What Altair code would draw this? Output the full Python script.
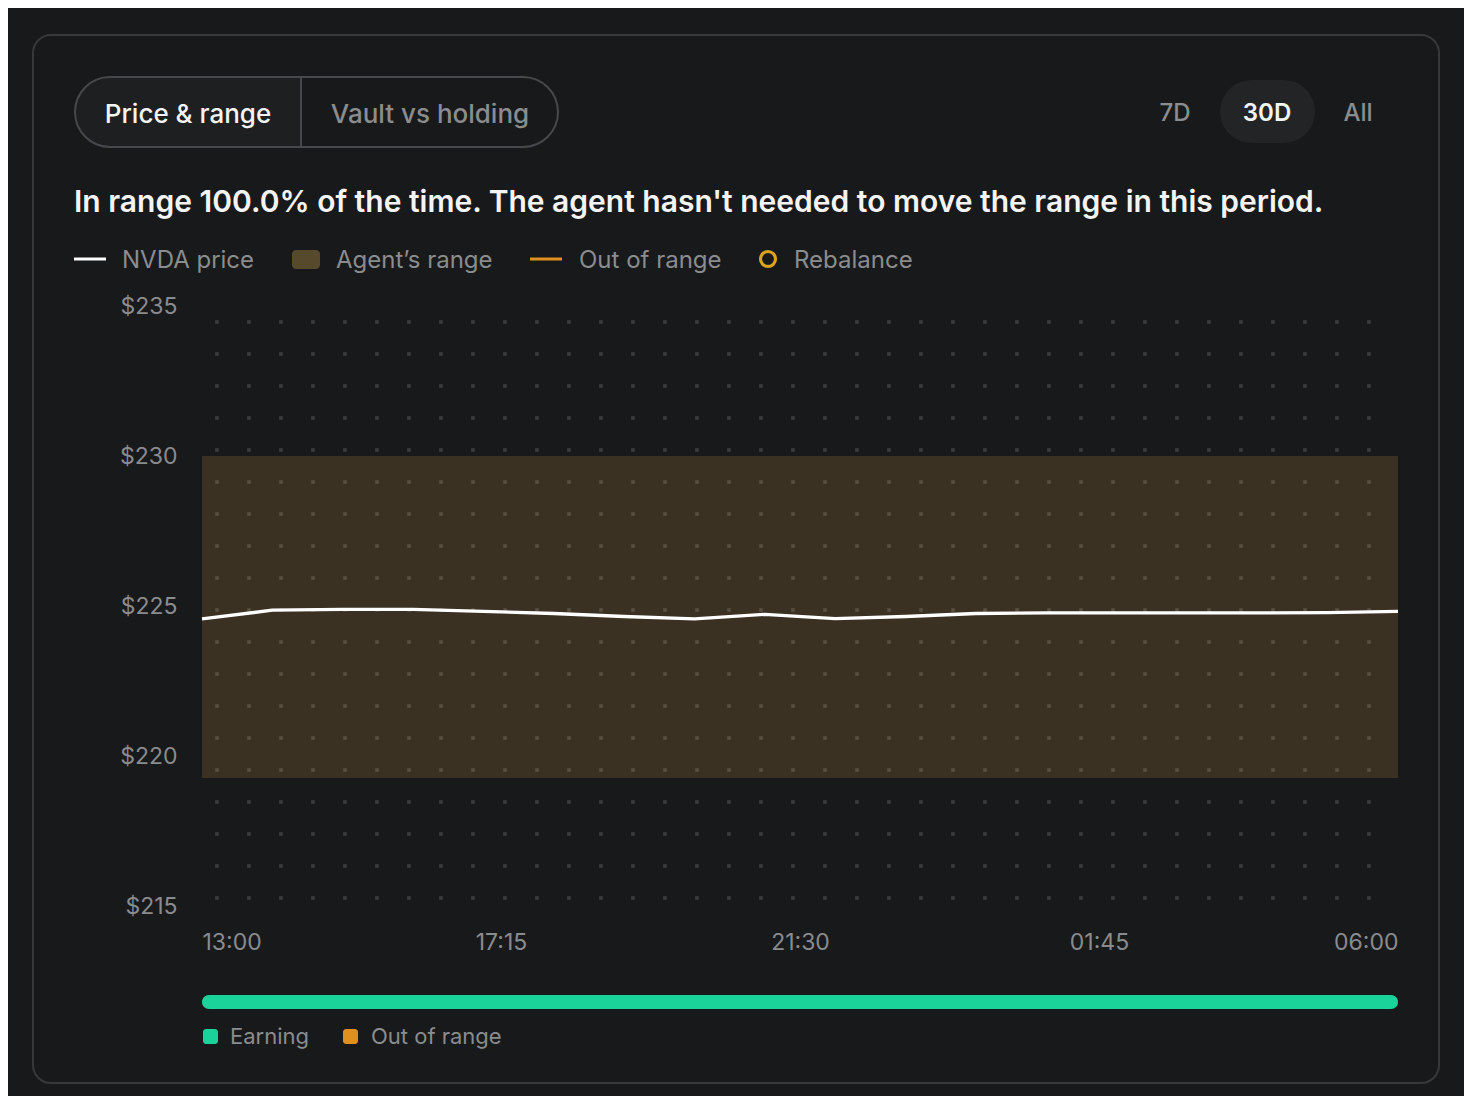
import altair as alt
import pandas as pd
import numpy as np

FONT = "Inter"

# ---------------- data ----------------
times = [
    "2025-01-01T13:00:00", "2025-01-01T14:00:00", "2025-01-01T15:00:00",
    "2025-01-01T16:00:00", "2025-01-01T17:00:00", "2025-01-01T18:00:00",
    "2025-01-01T19:00:00", "2025-01-01T20:00:00", "2025-01-01T21:00:00",
    "2025-01-01T22:00:00", "2025-01-01T23:00:00", "2025-01-02T00:00:00",
    "2025-01-02T01:00:00", "2025-01-02T02:00:00", "2025-01-02T03:00:00",
    "2025-01-02T04:00:00", "2025-01-02T05:00:00", "2025-01-02T06:00:00",
]
prices = [224.57, 224.86, 224.89, 224.89, 224.82, 224.75, 224.65, 224.57,
          224.72, 224.58, 224.65, 224.75, 224.77, 224.77, 224.77, 224.77,
          224.78, 224.82]

range_low = [219.27]
range_high = [230.0]

y_ticks = [215, 220, 225, 230, 235]
x_tick_labels = ["13:00", "17:15", "21:30", "01:45", "06:00"]
x_tick_days = [1, 1, 1, 2, 2]

seg_start = ["2025-01-01T13:00:00"]
seg_end = ["2025-01-02T06:00:00"]
seg_status = ["Earning"]

status_names = ["Earning", "Out of range"]
status_colors = ["#1ad39b", "#e0901f"]

# ---------------- helpers ----------------
def dt(day, hhmm):
    h, m = hhmm.split(":")
    return alt.DateTime(year=2025, month=1, date=day, hours=int(h), minutes=int(m))

x_domain = [dt(1, "13:00"), dt(2, "06:00")]
x_values = [dt(d, l) for d, l in zip(x_tick_days, x_tick_labels)]
y_domain = [215, 235]

one = pd.DataFrame({"k": [0]})

def txt(s, x, y, size, color, weight=400, align="left"):
    return alt.Chart(one).mark_text(
        text=s, align=align, baseline="middle", fontSize=size,
        fontWeight=weight, color=color, font=FONT
    ).encode(x=alt.value(x), y=alt.value(y))

def box(x, x2, y, y2, fill, r=0, stroke=None, sw=0, fill_opacity=1.0, **kw):
    props = dict(fill=fill, fillOpacity=fill_opacity)
    if r:
        props["cornerRadius"] = r
    if stroke is not None:
        props["stroke"] = stroke
        props["strokeWidth"] = sw
    props.update(kw)
    return alt.Chart(one).mark_rect(**props).encode(
        x=alt.value(x), x2=alt.value(x2), y=alt.value(y), y2=alt.value(y2))

def hline(x, x2, y, color, sw=3):
    return alt.Chart(one).mark_rule(color=color, strokeWidth=sw).encode(
        x=alt.value(x), x2=alt.value(x2), y=alt.value(y))

def vline(x, y, y2, color, sw=2):
    return alt.Chart(one).mark_rule(color=color, strokeWidth=sw).encode(
        x=alt.value(x), y=alt.value(y), y2=alt.value(y2))

GRAY = "#8b8c8e"
WHITE = "#f4f4f5"

# ---------------- card + header ----------------
card = box(-169, 1237, -271, 777, "#18191b", r=18, stroke="#37383a", sw=2)

tab_left = box(-127, 99, -229, -159, "#1e1f21",
               cornerRadiusTopLeft=35, cornerRadiusBottomLeft=35)
tab_outline = box(-127, 356, -229, -159, "#18191b", r=35, stroke="#47484b",
                  sw=2, fill_opacity=0.0)
tab_div = vline(99, -229, -159, "#47484b", 2)
tab_t1 = txt("Price & range", -14, -191, 26, WHITE, 500, "center")
tab_t2 = txt("Vault vs holding", 228, -191, 26, GRAY, 500, "center")

pill30 = box(1018, 1113, -226, -163, "#232426", r=32)
b7 = txt("7D", 973, -192, 24, GRAY, 500, "center")
b30 = txt("30D", 1065, -192, 24, WHITE, 600, "center")
ball = txt("All", 1156, -192, 24, GRAY, 500, "center")

title = txt("In range 100.0% of the time. The agent hasn't needed to move the range in this period.",
            -128, -103, 30, WHITE, 600)

# ---------------- legend row ----------------
lg_y = -46
leg = [
    hline(-128, -96, lg_y - 1, "#ffffff", 3),
    txt("NVDA price", -80, lg_y + 1, 24, GRAY),
    box(90, 118, lg_y - 10, lg_y + 9, "#574a2c", r=4),
    txt("Agent\u2019s range", 134, lg_y + 1, 24, GRAY),
    hline(328, 360, lg_y - 1, "#e0901f", 3),
    txt("Out of range", 377, lg_y + 1, 24, GRAY),
    alt.Chart(one).mark_point(shape="circle", filled=False, size=225,
                              stroke="#d9a21f", strokeWidth=3.2, opacity=1).encode(
        x=alt.value(566), y=alt.value(lg_y - 1)),
    txt("Rebalance", 592, lg_y + 1, 24, GRAY),
]

# ---------------- plot ----------------
xs = alt.Scale(domain=x_domain, nice=False)
ys = alt.Scale(domain=y_domain, nice=False, zero=False)
x_axis = alt.Axis(values=x_values, format="%H:%M", labelFlush=True,
                  labelPadding=25, title=None, zindex=2)
y_axis = alt.Axis(values=y_ticks, labelExpr="'$' + datum.value",
                  labelPadding=25, title=None, zindex=2)

band_df = pd.DataFrame({"start": [times[0]], "end": [times[-1]],
                        "low": range_low, "high": range_high})
band = alt.Chart(band_df).mark_rect(color="#3a3122").encode(
    x=alt.X("start:T", scale=xs, axis=x_axis),
    x2="end:T",
    y=alt.Y("low:Q", scale=ys, axis=y_axis),
    y2="high:Q",
)

# background dot texture (every 32px of the plot area)
t0 = pd.Timestamp(times[0])
span_h = (pd.Timestamp(times[-1]) - t0) / pd.Timedelta(hours=1)
gx = np.arange(15, 1196, 32) / 1196.0
gy = np.arange(16, 600, 32) / 600.0
GX, GY = np.meshgrid(gx, gy)
dot_df = pd.DataFrame({
    "t": [(t0 + pd.Timedelta(hours=float(f * span_h))).isoformat(timespec="milliseconds")
          for f in GX.ravel()],
    "p": y_domain[1] - GY.ravel() * (y_domain[1] - y_domain[0]),
})
dots = alt.Chart(dot_df).mark_square(size=13, color="#ffffff", opacity=0.15).encode(
    x=alt.X("t:T", scale=xs, axis=x_axis),
    y=alt.Y("p:Q", scale=ys, axis=y_axis),
)

line_df = pd.DataFrame({"time": times, "price": prices})
line = alt.Chart(line_df).mark_line(color="#ffffff", strokeWidth=3.3,
                                    strokeJoin="round", strokeCap="butt").encode(
    x=alt.X("time:T", scale=xs, axis=x_axis),
    y=alt.Y("price:Q", scale=ys, axis=y_axis),
)

seg_df = pd.DataFrame({"start": seg_start, "end": seg_end, "status": seg_status})
bar = alt.Chart(seg_df).mark_rect(cornerRadius=7).encode(
    x=alt.X("start:T", scale=xs, axis=x_axis),
    x2="end:T",
    y=alt.value(689), y2=alt.value(703),
    color=alt.Color("status:N", scale=alt.Scale(domain=status_names, range=status_colors),
                    legend=None),
)

bottom_leg = [
    box(1, 16, 723, 738, status_colors[0], r=3),
    txt(status_names[0], 28, 731, 22, GRAY),
    box(141, 156, 723, 738, status_colors[1], r=3),
    txt(status_names[1], 169, 731, 22, GRAY),
]

chart = alt.layer(
    card, tab_left, tab_outline, tab_div, tab_t1, tab_t2,
    pill30, b7, b30, ball, title, *leg,
    band, dots, line, bar, *bottom_leg,
).properties(
    width=1196, height=600,
    padding={"left": 194, "top": 298, "right": 66, "bottom": 190},
    autosize=alt.AutoSizeParams(type="none"),
).configure(
    background="#18191b",
    font=FONT,
).configure_view(
    stroke=None,
).configure_axis(
    grid=False, domain=False, ticks=False,
    labelFont=FONT, labelFontSize=23, labelColor="#8a8b8d",
)

chart.save("out.html", embed_options={"renderer": "svg", "actions": False})
